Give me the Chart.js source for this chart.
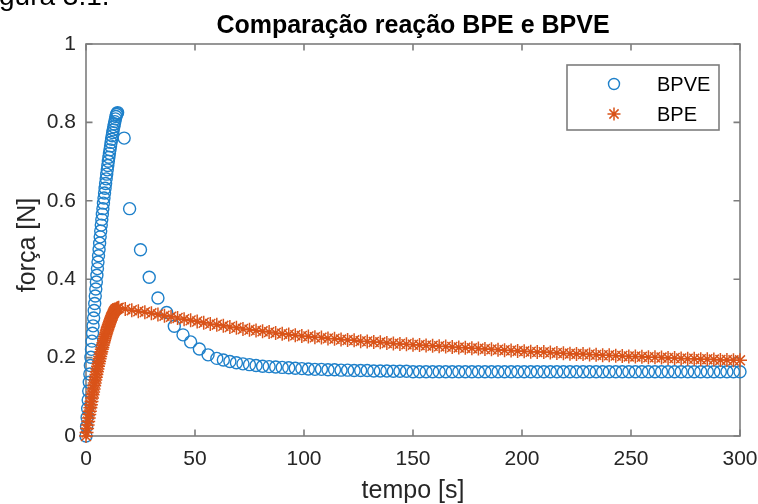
<!DOCTYPE html>
<html><head><meta charset="utf-8">
<script src="https://cdn.jsdelivr.net/npm/chart.js@4/dist/chart.umd.min.js"></script>
<style>html,body{margin:0;padding:0;background:#fff;overflow:hidden;}canvas{display:block;}</style>
</head><body>
<canvas id="c" width="758" height="504"></canvas>
<script>
const chartTitle = 'Comparação reação BPE e BPVE';
const xAxisLabel = 'tempo [s]';
const yAxisLabel = 'força [N]';
const pageFragment = 'gura 3.1.';
const seriesNames = ['BPVE', 'BPE'];
const xTicks = [0, 50, 100, 150, 200, 250, 300];
const yTicks = [0, 0.2, 0.4, 0.6, 0.8, 1];

const riseTime = [0,0.25,0.5,0.75,1,1.25,1.5,1.75,2,2.25,2.5,2.75,3,3.25,3.5,3.75,4,4.25,4.5,4.75,5,5.25,5.5,5.75,6,6.25,6.5,6.75,7,7.25,
  7.5,7.75,8,8.25,8.5,8.75,9,9.25,9.5,9.75,10,10.25,10.5,10.75,11,11.25,11.5,11.75,12,12.25,12.5,12.75,13,13.25,13.5,13.75,14,14.25,14.5];

const bpveTime = riseTime.concat([
  17.5,20,25,29,33,37,40.5,44.5,48,52,56,
  60,63,66,69,72,75,78,81,84,87,90,93,96,99,102,105,108,111,114,117,120,123,126,129,132,135,138,141,144,147,
  150,153,156,159,162,165,168,171,174,177,180,183,186,189,192,195,198,201,204,207,210,213,216,219,222,225,228,231,234,237,
  240,243,246,249,252,255,258,261,264,267,270,273,276,279,282,285,288,291,294,297,300]);
const bpveForce = [0,0.024,0.047,0.070,0.092,0.115,0.137,0.158,0.180,0.201,0.221,0.242,0.262,0.281,0.301,0.320,0.338,0.357,0.375,0.393,
  0.410,0.427,0.444,0.460,0.476,0.492,0.508,0.523,0.538,0.552,0.566,0.580,0.594,0.607,0.620,0.632,0.644,0.656,0.668,0.679,
  0.690,0.701,0.711,0.721,0.730,0.740,0.749,0.757,0.766,0.774,0.781,0.789,0.796,0.802,0.809,0.815,0.820,0.823,0.825,
  0.760,0.580,0.475,0.405,0.352,0.315,0.280,0.258,0.240,0.222,0.207,
  0.198,0.194,0.190,0.187,0.184,0.182,0.180,0.178,0.177,0.176,0.175,0.174,0.173,0.172,0.171,0.170,0.170,0.169,0.169,0.168,0.168,0.167,0.167,0.167,0.166,0.166,0.166,0.165,0.165,0.165,
  0.164,0.164,0.164,0.164,0.164,0.164,0.164,0.164,0.164,0.164,0.164,0.164,0.164,0.164,0.164,0.164,0.164,0.164,0.164,0.164,0.164,0.164,0.164,0.164,0.164,0.164,0.164,0.164,0.164,0.164,
  0.164,0.164,0.164,0.164,0.164,0.164,0.164,0.164,0.164,0.164,0.164,0.164,0.164,0.164,0.164,0.164,0.164,0.164,0.164,0.164,0.164];

const bpeTime = riseTime.concat([
  15,18,21,24,27,30,33,36,39,42,45,48,51,54,57,60,63,66,69,72,75,78,81,84,87,90,93,96,99,102,105,108,111,114,117,120,
  123,126,129,132,135,138,141,144,147,150,153,156,159,162,165,168,171,174,177,180,183,186,189,192,195,198,201,204,207,210,
  213,216,219,222,225,228,231,234,237,240,243,246,249,252,255,258,261,264,267,270,273,276,279,282,285,288,291,294,297,300]);
const bpeForce = [0,0.009,0.019,0.028,0.037,0.046,0.055,0.063,0.072,0.080,0.088,0.097,0.105,0.112,0.120,0.128,0.135,0.143,0.150,0.157,
  0.164,0.171,0.178,0.184,0.190,0.197,0.203,0.209,0.215,0.221,0.226,0.232,0.238,0.243,0.248,0.253,0.258,0.263,0.268,0.272,
  0.276,0.280,0.284,0.288,0.292,0.296,0.300,0.303,0.306,0.310,0.313,0.316,0.318,0.320,0.322,0.323,0.324,0.325,0.326,
  0.327,0.324,0.321,0.318,0.316,0.313,0.310,0.307,0.304,0.301,0.298,0.295,0.292,0.289,0.286,0.284,0.281,0.278,0.276,0.273,0.271,0.269,0.267,0.265,0.263,0.261,0.259,0.257,0.255,0.254,0.252,0.251,0.249,0.248,0.246,0.245,
  0.244,0.242,0.241,0.240,0.239,0.237,0.236,0.235,0.234,0.233,0.232,0.231,0.230,0.229,0.228,0.227,0.226,0.225,0.224,0.223,0.222,0.221,0.220,0.219,0.218,0.217,0.216,0.215,0.214,0.214,
  0.213,0.212,0.211,0.210,0.209,0.209,0.208,0.207,0.206,0.206,0.205,0.204,0.203,0.203,0.202,0.201,0.201,0.200,0.199,0.199,0.198,0.197,0.197,0.196,0.196,0.195,0.194,0.194,0.193,0.193];

const blue = 'rgb(30,128,202)';
const orange = '#D95319';
const axisColor = 'rgb(125,125,125)';
const textColor = '#262626';
const FONT = '"Liberation Sans", Arial, Helvetica, sans-serif';

Chart.defaults.font.family = FONT;

function toPoints(t, v) { return t.map((tt, i) => ({ x: tt, y: v[i] })); }

const framePlugin = {
  id: 'frame',
  beforeDatasetsDraw(chart) {
    const { ctx, chartArea: a, scales: { x, y } } = chart;
    ctx.save();
    ctx.strokeStyle = axisColor;
    ctx.lineWidth = 1.6;
    ctx.strokeRect(a.left, a.top, a.right - a.left, a.bottom - a.top);
    const tl = 6.5;
    ctx.beginPath();
    xTicks.forEach(v => {
      const px = x.getPixelForValue(v);
      ctx.moveTo(px, a.bottom); ctx.lineTo(px, a.bottom - tl);
      ctx.moveTo(px, a.top); ctx.lineTo(px, a.top + tl);
    });
    yTicks.forEach(v => {
      const py = y.getPixelForValue(v);
      ctx.moveTo(a.left, py); ctx.lineTo(a.left + tl, py);
      ctx.moveTo(a.right, py); ctx.lineTo(a.right - tl, py);
    });
    ctx.stroke();
    ctx.restore();
  },
  afterDraw(chart) {
    const { ctx, chartArea: a } = chart;
    const cx = (a.left + a.right) / 2;
    const cy = (a.top + a.bottom) / 2;
    ctx.save();
    ctx.fillStyle = '#000';
    ctx.font = '28px ' + FONT;
    ctx.textAlign = 'left';
    ctx.textBaseline = 'alphabetic';
    ctx.fillText(pageFragment, -1, 5);
    ctx.font = 'bold 25px ' + FONT;
    ctx.textAlign = 'center';
    ctx.fillText(chartTitle, cx, 33);
    ctx.fillStyle = textColor;
    ctx.font = '25px ' + FONT;
    ctx.fillText(xAxisLabel, cx, 498);
    ctx.save();
    ctx.translate(35, cy + 5);
    ctx.rotate(-Math.PI / 2);
    ctx.fillText(yAxisLabel, 0, 0);
    ctx.restore();
    const lx = 567, ly = 65, lw = 152, lh = 65;
    ctx.fillStyle = '#fff';
    ctx.fillRect(lx, ly, lw, lh);
    ctx.strokeStyle = axisColor;
    ctx.lineWidth = 1.6;
    ctx.strokeRect(lx, ly, lw, lh);
    const rows = [84, 114];
    chart.data.datasets.forEach(ds => {
      const yy = rows[ds.legendRow];
      ctx.save();
      ctx.strokeStyle = ds.borderColor;
      ctx.fillStyle = 'rgba(0,0,0,0)';
      ctx.lineWidth = ds.borderWidth;
      const opts = { pointStyle: ds.pointStyle, radius: ds.pointStyle === 'circle' ? 5.5 : 6.5, rotation: 0, borderWidth: ds.borderWidth };
      if (Chart.helpers && Chart.helpers.drawPoint) {
        Chart.helpers.drawPoint(ctx, opts, 614, yy);
      }
      ctx.restore();
      ctx.fillStyle = '#000';
      ctx.font = '20px ' + FONT;
      ctx.textAlign = 'left';
      ctx.textBaseline = 'middle';
      ctx.fillText(ds.label, 657, yy + 1.5);
    });
    ctx.restore();
  }
};

new Chart(document.getElementById('c'), {
  type: 'scatter',
  data: {
    datasets: [
      {
        label: seriesNames[0], legendRow: 0, order: 1,
        data: toPoints(bpveTime, bpveForce),
        pointStyle: 'circle', pointRadius: 6, borderWidth: 1.4,
        borderColor: blue, backgroundColor: 'rgba(0,0,0,0)',
        pointBorderColor: blue, pointBackgroundColor: 'rgba(0,0,0,0)',
        pointBorderWidth: 1.4, showLine: false, clip: false
      },
      {
        label: seriesNames[1], legendRow: 1, order: 0,
        data: toPoints(bpeTime, bpeForce),
        pointStyle: 'star', pointRadius: 7, borderWidth: 1.5,
        borderColor: orange, backgroundColor: 'rgba(0,0,0,0)',
        pointBorderColor: orange, pointBackgroundColor: 'rgba(0,0,0,0)',
        pointBorderWidth: 1.5, showLine: false, clip: false
      }
    ]
  },
  options: {
    responsive: false,
    devicePixelRatio: 1,
    animation: false,
    events: [],
    layout: { padding: { left: 0, right: 18, top: 44, bottom: 0 } },
    plugins: { legend: { display: false }, title: { display: false }, tooltip: { enabled: false } },
    scales: {
      x: {
        type: 'linear', min: 0, max: 300,
        grid: { display: false, drawTicks: false },
        border: { display: false },
        afterBuildTicks: s => { s.ticks = xTicks.map(v => ({ value: v })); },
        ticks: { font: { size: 21 }, color: textColor, padding: 11, maxRotation: 0, callback: v => String(v) },
        afterFit: s => { s.height = 68; s.paddingLeft = 0; s.paddingRight = 0; }
      },
      y: {
        type: 'linear', min: 0, max: 1,
        grid: { display: false, drawTicks: false },
        border: { display: false },
        afterBuildTicks: s => { s.ticks = yTicks.map(v => ({ value: v })); },
        ticks: { font: { size: 21 }, color: textColor, padding: 10, callback: v => String(v) },
        afterFit: s => { s.width = 86; s.paddingTop = 0; s.paddingBottom = 0; }
      }
    }
  },
  plugins: [framePlugin]
});
</script>
</body></html>
